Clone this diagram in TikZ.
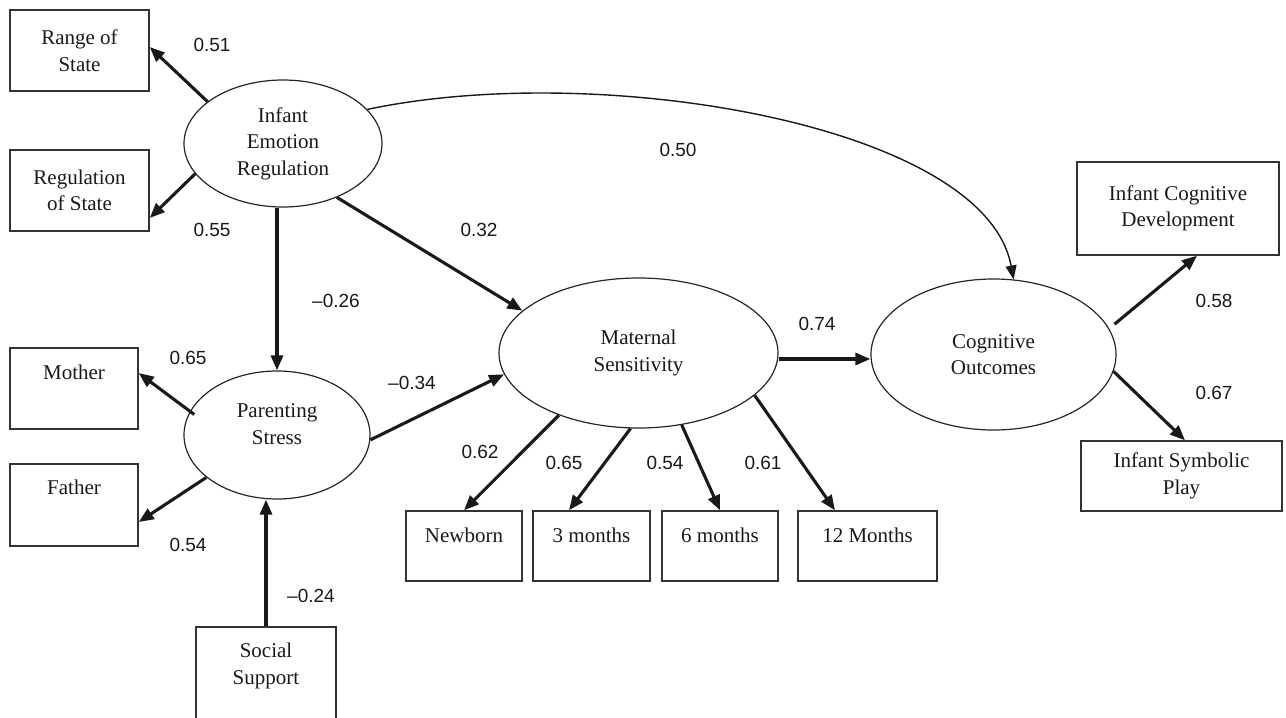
\documentclass[tikz,border=0pt]{standalone}
\usepackage{fontspec}
\setmainfont{Liberation Serif}
\newfontfamily\numfont{Liberation Sans}
\usetikzlibrary{arrows.meta,shapes.geometric}
\begin{document}
\begin{tikzpicture}[x=1pt,y=-1pt,
  every node/.style={text=black!90},
  latent/.style={draw=black!85, line width=1.2pt, ellipse, inner sep=0pt,
    font=\fontsize{21}{26.5}\selectfont},
  obs/.style={draw=black!80, line width=1.4pt, rectangle, inner sep=0pt,
    font=\fontsize{21}{26.5}\selectfont},
  coef/.style={font=\numfont\fontsize{19}{22}\selectfont, inner sep=0pt},
  effect/.style={draw=black!90, line width=3.1pt, -{Triangle[length=15pt,width=12pt]}},
  curvearrow/.style={draw=black!90, line width=1.4pt, -{Triangle[length=14pt,width=11pt]}},
]
\useasboundingbox (0,0) rectangle (1286,718);
\clip (0,0) rectangle (1286,718);

% latent variables
\node[latent, align=center, minimum width=198pt, minimum height=127pt] (ier) at (283,143.5) {Infant\\Emotion\\Regulation};
\node[latent, minimum width=186pt, minimum height=128pt, text height=41pt, text depth=23pt] (ps) at (277,435)
  {\begin{tabular}[b]{@{}c@{}}Parenting\\Stress\end{tabular}};
\node[latent, align=center, minimum width=279pt, minimum height=150pt] (ms) at (638.5,353) {Maternal\\Sensitivity};
\node[latent, align=center, minimum width=245pt, minimum height=151pt] (co) at (993.5,354.5) {Cognitive\\Outcomes};

% indicators
\node[obs, align=center, minimum width=139pt, minimum height=81pt] (range) at (79.5,50.5) {Range of\\State};
\node[obs, align=center, minimum width=139pt, minimum height=81pt] (regst) at (79.5,190.5) {Regulation\\of State};
\node[obs, minimum width=128pt, minimum height=81pt, text height=15pt, text depth=34pt] (mother) at (74,388.5) {Mother};
\node[obs, minimum width=128pt, minimum height=82pt, text height=15pt, text depth=37pt] (father) at (74,505) {Father};
\node[obs, minimum width=140pt, minimum height=120pt, text height=42pt, text depth=48pt] (ss) at (266,687)
  {\begin{tabular}[b]{@{}c@{}}Social\\Support\end{tabular}};
\node[obs, minimum width=116pt, minimum height=70pt, text height=15pt, text depth=23pt] (newborn) at (464,546) {Newborn};
\node[obs, minimum width=117pt, minimum height=70pt, text height=15pt, text depth=23pt] (m3) at (591.5,546) {3 months};
\node[obs, minimum width=116pt, minimum height=70pt, text height=15pt, text depth=23pt] (m6) at (720,546) {6 months};
\node[obs, minimum width=139pt, minimum height=70pt, text height=15pt, text depth=23pt] (m12) at (867.5,546) {12 Months};
\node[obs, align=center, minimum width=202pt, minimum height=93pt] (icd) at (1178,208.5) {Infant Cognitive\\Development};
\node[obs, align=center, minimum width=201pt, minimum height=70pt] (isp) at (1181.5,476) {Infant Symbolic\\Play};

% paths
\draw[effect] (ier.151.4) -- ([yshift=3.5pt]range.east);
\draw[effect] (ier.199.7) -- ([yshift=-27.5pt]regst.east);
\draw[effect] (ier.south -| ps.north) -- (ps.north);
\draw[effect] (ier.315.3) -- (ms.160.9);
\draw[curvearrow] (ier.22) .. controls (600,60) and (985,125) .. (co.75);
\draw[effect] ([xshift=6pt]ps.167.5) -- ([yshift=15.5pt]mother.east);
\draw[effect] (ps.211) -- ([yshift=-17pt]father.east);
\draw[effect] (ss.north) -- (ss.north |- ps.south);
\draw[effect] (ps.357) -- (ms.189);
\draw[effect] ([yshift=-6pt]ms.east) -- ([yshift=-6pt]ms.east -| co.west);
\draw[effect] (ms.218.6) -- (newborn.north);
\draw[effect] (ms.264) -- ([xshift=-22.5pt]m3.north);
\draw[effect] (ms.301.7) -- (m6.north);
\draw[effect] (ms.340.3) -- ([xshift=-32.5pt]m12.north);
\draw[effect] ([xshift=8pt]co.15) -- ([xshift=19pt]icd.south);
\draw[effect] (co.352) -- ([xshift=3.5pt]isp.north);

% coefficients
\node[coef] (k1) at (212,45) {0.51};
\node[coef] (k2) at (212,230) {0.55};
\node[coef] (k3) at (336,301) {–0.26};
\node[coef] (k4) at (479,230) {0.32};
\node[coef] (k5) at (678,150) {0.50};
\node[coef] (k6) at (188,358) {0.65};
\node[coef] (k7) at (188,545) {0.54};
\node[coef] (k8) at (412,383) {–0.34};
\node[coef] (k9) at (311,596) {–0.24};
\node[coef] (k10) at (480,452) {0.62};
\node[coef] (k11) at (564,463) {0.65};
\node[coef] (k12) at (665,463) {0.54};
\node[coef] (k13) at (763,463) {0.61};
\node[coef] (k14) at (817,324) {0.74};
\node[coef] (k15) at (1214,301) {0.58};
\node[coef] (k16) at (1214,393) {0.67};
\end{tikzpicture}
\end{document}
